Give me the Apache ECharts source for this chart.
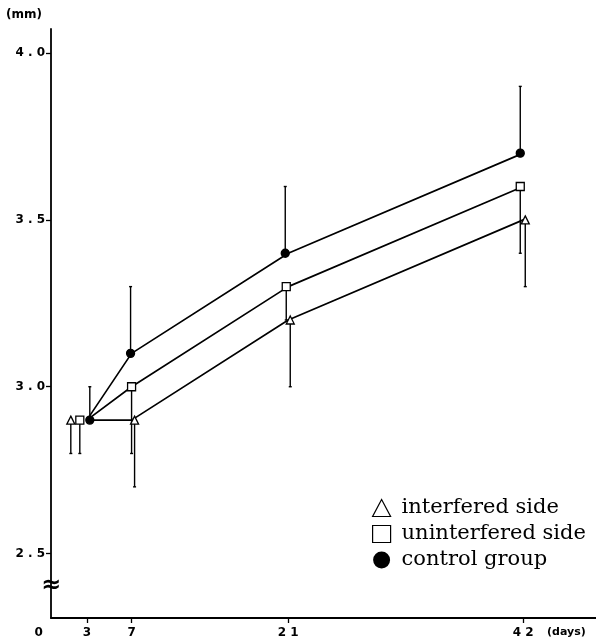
<!DOCTYPE html>
<html>
<head>
<meta charset="utf-8">
<script src="https://cdn.jsdelivr.net/npm/echarts@6/dist/echarts.min.js"></script>
<style>
  html, body { margin: 0; padding: 0; background: #fff; }
  #chart { width: 596px; height: 644px; }
</style>
</head>
<body>
<div id="chart"></div>
<script>
// ---- data ----
const days = [3, 7, 21, 42];
const interfered = [2.9, 2.9, 3.2, 3.5];
const interferedLow = [2.8, 2.7, 3.0, 3.3];
const uninterfered = [2.9, 3.0, 3.3, 3.6];
const uninterferedLow = [2.8, 2.8, 3.2, 3.4];
const control = [2.9, 3.1, 3.4, 3.7];
const controlHigh = [3.0, 3.3, 3.6, 3.9];
const seriesNames = ['interfered side', 'uninterfered side', 'control group'];
const yTickValues = [2.5, 3.0, 3.5, 4.0];
const yTickLabels = ['2.5', '3.0', '3.5', '4.0'];
const xLabelValues = [0, 3, 7, 21, 42];
const xTickValues = [3, 7, 21, 42];
const yUnit = '(mm)';
const xUnit = '(days)';

// ---- styling (pixel nudges so overlapping markers stay visible) ----
const markerShift = {
  'interfered side': [-16, 3, 2, 2],
  'uninterfered side': [-7, 0, -2, -3],
  'control group': [3, -1, -3, -3]
};
const xMin = -0.2, xMax = 48.5, yMin = 2.307, yMax = 4.072;
const axisFont = 'DejaVu Sans';
const spaced = s => s.split('').join(' ');

const chart = echarts.init(document.getElementById('chart'), null, { renderer: 'canvas' });

function lineSeries(name, vals, symbol, filled) {
  return {
    name: name,
    type: 'line',
    z: 3,
    symbol: symbol,
    symbolSize: 8,
    showAllSymbol: true,
    lineStyle: { color: '#000', width: 1.7 },
    itemStyle: { color: filled ? '#000' : '#fff', borderColor: '#000', borderWidth: 1.3 },
    emphasis: { disabled: true },
    data: days.map((d, i) => ({ value: [d, vals[i]], symbolOffset: [markerShift[name][i], 0] }))
  };
}

function errSeries(name, vals, ends) {
  return {
    name: name + ' err',
    type: 'custom',
    z: 2,
    silent: true,
    data: days.map((d, i) => [d, vals[i], ends[i], i]),
    renderItem: function (params, api) {
      const i = api.value(3);
      const dx = markerShift[name][i];
      const p = api.coord([api.value(0), api.value(1)]);
      const q = api.coord([api.value(0), api.value(2)]);
      const x = p[0] + dx;
      const st = { stroke: '#000', lineWidth: 1.4 };
      return {
        type: 'group',
        children: [
          { type: 'line', shape: { x1: x, y1: p[1], x2: x, y2: q[1] }, style: st },
          { type: 'line', shape: { x1: x - 1.5, y1: q[1], x2: x + 1.5, y2: q[1] }, style: st }
        ]
      };
    }
  };
}

const option = {
  animation: false,
  backgroundColor: '#fff',
  grid: { left: 51, right: 0, top: 29, bottom: 26, containLabel: false },
  legend: {
    orient: 'vertical',
    left: 367,
    top: 492,
    itemWidth: 18,
    itemHeight: 17,
    itemGap: 4,
    selectedMode: false,
    textStyle: { fontFamily: 'DejaVu Serif', fontSize: 21, color: '#000', lineHeight: 22, padding: [0, 0, 0, 6] },
    data: [
      { name: seriesNames[0], icon: 'triangle', itemStyle: { color: '#fff', borderColor: '#000', borderWidth: 1.2 } },
      { name: seriesNames[1], icon: 'rect', itemStyle: { color: '#fff', borderColor: '#000', borderWidth: 1.2 } },
      { name: seriesNames[2], icon: 'circle', itemStyle: { color: '#000', borderColor: '#000', borderWidth: 0 } }
    ]
  },
  xAxis: {
    type: 'value',
    min: xMin,
    max: xMax,
    name: xUnit,
    nameLocation: 'end',
    nameGap: -49,
    nameTextStyle: { fontFamily: axisFont, fontWeight: 'bold', fontSize: 11, color: '#000', verticalAlign: 'top', align: 'left', padding: [9, 0, 0, 0] },
    axisLine: { onZero: false, lineStyle: { color: '#000', width: 1.8 } },
    axisTick: { show: true, length: 5, customValues: xTickValues, lineStyle: { color: '#000', width: 1.3 } },
    axisLabel: {
      customValues: xLabelValues,
      margin: 9,
      fontFamily: axisFont, fontWeight: 'bold', fontSize: 12, color: '#000',
      formatter: v => v === 0 ? '{z|0}' : spaced(String(v)),
      rich: { z: { fontFamily: axisFont, fontWeight: 'bold', fontSize: 12, color: '#000', padding: [0, 29, 0, 0] } }
    },
    splitLine: { show: false }
  },
  yAxis: {
    type: 'value',
    min: yMin,
    max: yMax,
    name: yUnit,
    nameLocation: 'end',
    nameGap: 8,
    nameTextStyle: { fontFamily: axisFont, fontWeight: 'bold', fontSize: 12, color: '#000', align: 'right', padding: [0, 9, 0, 0] },
    axisLine: { onZero: false, lineStyle: { color: '#000', width: 1.8 } },
    axisTick: { show: true, length: 5, customValues: yTickValues, lineStyle: { color: '#000', width: 1.3 } },
    axisLabel: {
      customValues: yTickValues,
      margin: 6,
      fontFamily: axisFont, fontWeight: 'bold', fontSize: 12, color: '#000',
      formatter: v => spaced(yTickLabels[yTickValues.findIndex(t => Math.abs(t - v) < 1e-6)] || String(v))
    },
    splitLine: { show: false }
  },
  series: [
    errSeries(seriesNames[0], interfered, interferedLow),
    errSeries(seriesNames[1], uninterfered, uninterferedLow),
    errSeries(seriesNames[2], control, controlHigh),
    lineSeries(seriesNames[0], interfered, 'triangle', false),
    lineSeries(seriesNames[1], uninterfered, 'rect', false),
    lineSeries(seriesNames[2], control, 'circle', true)
  ]
};
chart.setOption(option);

// axis-break mark on the y axis
const bx = chart.convertToPixel({ xAxisIndex: 0 }, xMin);
const by = chart.convertToPixel({ yAxisIndex: 0 }, 2.405);
chart.setOption({
  graphic: [{
    type: 'text', x: bx, y: by, z: 10,
    style: { text: '≈', fontFamily: 'DejaVu Sans', fontWeight: 'bold', fontSize: 24, fill: '#000', align: 'center', verticalAlign: 'middle' }
  }]
});
</script>
</body>
</html>
